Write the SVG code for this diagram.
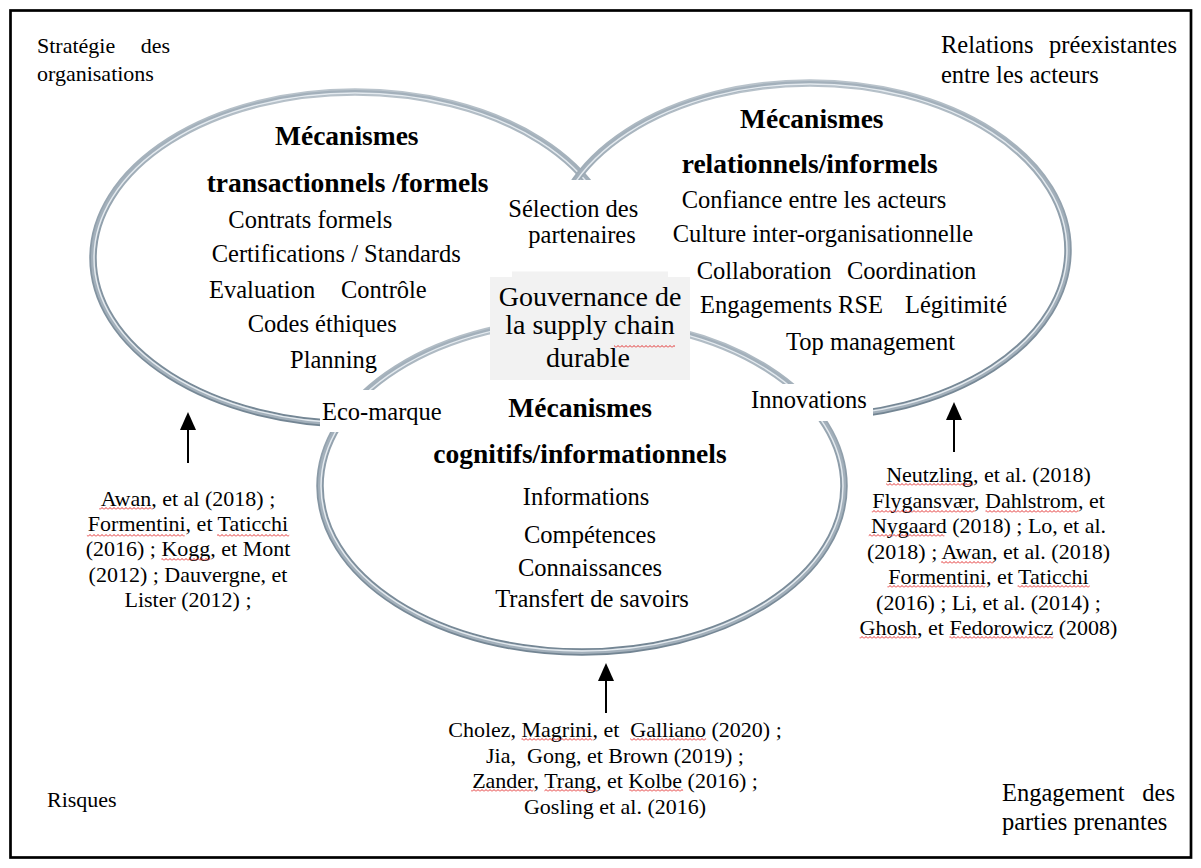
<svg xmlns="http://www.w3.org/2000/svg" width="1201" height="868" viewBox="0 0 1201 868">
<style>
.t{font-family:"Liberation Serif","Times New Roman",serif;fill:#000}
.b{font-weight:bold;font-size:27.5px}
.r{font-size:24.5px}
.c{font-size:22px}
.g{font-size:28px}
.ro{fill:none;stroke:url(#ringG);stroke-width:7.5}
.rm{fill:none;stroke:#a3b0bb;stroke-width:4}
.ri{fill:none;stroke:#e4eaef;stroke-width:1.4}
.wv{fill:url(#wave)}
.arr{stroke:#000;stroke-width:2;fill:none;marker-end:url(#ah)}
</style>
<defs>
<linearGradient id="ringG" x1="0" y1="0" x2="0" y2="1">
<stop offset="0" stop-color="#b9c3cb"/>
<stop offset="0.5" stop-color="#8797a4"/>
<stop offset="1" stop-color="#738593"/>
</linearGradient>
<pattern id="wave" width="4" height="3" patternUnits="userSpaceOnUse"><path d="M0,2.5 L2,0.5 L4,2.5" fill="none" stroke="#e01b1b" stroke-width="0.9"/></pattern>
<marker id="ah" markerUnits="userSpaceOnUse" markerWidth="18" markerHeight="16" refX="13" refY="8" orient="auto"><path d="M0,0 L18,8 L0,16 Z" fill="#000"/></marker>
</defs>
<rect x="0" y="0" width="1201" height="868" fill="#fff"/>
<rect x="10.5" y="10.5" width="1180.5" height="847" fill="none" stroke="#000" stroke-width="2.7"/>

<g id="node-transactionnels">
<ellipse class="ro" cx="355" cy="258" rx="262" ry="166"/>
<ellipse class="rm" cx="355" cy="258" rx="262" ry="166"/>
<ellipse class="ri" cx="355" cy="258" rx="261" ry="165"/>
<text class="t b" x="275" y="145">Mécanismes</text>
<text class="t b" x="206.7" y="191.7">transactionnels /formels</text>
<text class="t r" x="228.3" y="228">Contrats formels</text>
<text class="t r" x="211.7" y="262">Certifications / Standards</text>
<text class="t r" x="209" y="298">Evaluation</text>
<text class="t r" x="341" y="298">Contrôle</text>
<text class="t r" x="247.7" y="332">Codes éthiques</text>
<text class="t r" x="290" y="368">Planning</text>
</g>

<g id="node-relationnels">
<ellipse class="ro" cx="810" cy="250" rx="258" ry="167"/>
<ellipse class="rm" cx="810" cy="250" rx="258" ry="167"/>
<ellipse class="ri" cx="810" cy="250" rx="257" ry="166"/>
<text class="t b" x="740" y="128.3">Mécanismes</text>
<text class="t b" x="681.7" y="173.3">relationnels/informels</text>
<text class="t r" x="681.7" y="208.3">Confiance entre les acteurs</text>
<text class="t r" x="672.7" y="242">Culture inter-organisationnelle</text>
<text class="t r" x="696.7" y="279">Collaboration</text>
<text class="t r" x="847" y="279">Coordination</text>
<text class="t r" x="700" y="313">Engagements RSE</text>
<text class="t r" x="905" y="313">Légitimité</text>
<text class="t r" x="786" y="350">Top management</text>
</g>

<g id="node-cognitifs">
<ellipse cx="582" cy="486" rx="262" ry="166" fill="#fff" stroke="none"/>
<ellipse class="ro" cx="582" cy="486" rx="262" ry="166"/>
<ellipse class="rm" cx="582" cy="486" rx="262" ry="166"/>
<ellipse class="ri" cx="582" cy="486" rx="261" ry="165"/>
<text class="t b" x="508.3" y="416.7">Mécanismes</text>
<text class="t b" x="433.3" y="463.3">cognitifs/informationnels</text>
<text class="t r" x="586" y="505" text-anchor="middle">Informations</text>
<text class="t r" x="590" y="543" text-anchor="middle">Compétences</text>
<text class="t r" x="590" y="576" text-anchor="middle">Connaissances</text>
<text class="t r" x="592" y="607" text-anchor="middle">Transfert de savoirs</text>
</g>

<g id="node-selection">
<rect x="500" y="180" width="165" height="93" fill="#fff"/>
<text class="t r" x="508.3" y="216.7">Sélection des</text>
<text class="t r" x="528.3" y="243.3">partenaires</text>
</g>

<g id="node-gouvernance">
<rect x="490" y="277" width="200" height="103" fill="#f2f2f2"/>
<rect x="512" y="271.5" width="156" height="6" fill="#f2f2f2"/>
<text class="t g" x="590" y="306" text-anchor="middle">Gouvernance de</text>
<text class="t g" x="590" y="334.3" text-anchor="middle">la supply chain</text>
<text class="t g" x="588" y="366.7" text-anchor="middle">durable</text>
<rect class="wv" x="614" y="345" width="61" height="3"/>
</g>

<g id="label-ecomarque">
<rect x="320" y="390" width="126" height="42" fill="#fff"/>
<text class="t r" x="322" y="420">Eco-marque</text>
</g>

<g id="label-innovations">
<rect x="747" y="384" width="126" height="37" fill="#fff"/>
<text class="t r" x="751" y="408">Innovations</text>
</g>

<g id="ctx-strategie">
<text class="t c" x="37" y="53.3">Stratégie</text>
<text class="t c" x="170" y="53.3" text-anchor="end">des</text>
<text class="t c" x="37" y="81">organisations</text>
</g>
<g id="ctx-relations">
<text class="t r" x="941" y="53">Relations</text>
<text class="t r" x="1177" y="53" text-anchor="end">préexistantes</text>
<text class="t r" x="941" y="83">entre les acteurs</text>
</g>
<g id="ctx-risques">
<text class="t c" x="47" y="807">Risques</text>
</g>
<g id="ctx-engagement">
<text class="t r" x="1002" y="801">Engagement</text>
<text class="t r" x="1175" y="801" text-anchor="end">des</text>
<text class="t r" x="1002" y="830">parties prenantes</text>
</g>

<g id="refs-left">
<text class="t c" x="188" y="506" text-anchor="middle">Awan, et al (2018) ;</text>
<text class="t c" x="188" y="531" text-anchor="middle">Formentini, et Taticchi</text>
<text class="t c" x="188" y="556" text-anchor="middle">(2016) ; Kogg, et Mont</text>
<text class="t c" x="188" y="581.5" text-anchor="middle">(2012) ; Dauvergne, et</text>
<text class="t c" x="188" y="606.5" text-anchor="middle">Lister (2012) ;</text>
<rect class="wv" x="99.2" y="507" width="52.5" height="3"/>
<rect class="wv" x="86.9" y="534" width="97.8" height="3"/>
<rect class="wv" x="217.1" y="534" width="72.1" height="3"/>
<rect class="wv" x="161.4" y="558" width="48.9" height="3"/>
</g>

<g id="refs-right">
<text class="t c" x="988.5" y="482" text-anchor="middle">Neutzling, et al. (2018)</text>
<text class="t c" x="988.5" y="507.5" text-anchor="middle">Flygansvær, Dahlstrom, et</text>
<text class="t c" x="988.5" y="533" text-anchor="middle">Nygaard (2018) ; Lo, et al.</text>
<text class="t c" x="988.5" y="558.5" text-anchor="middle">(2018) ; Awan, et al. (2018)</text>
<text class="t c" x="988.5" y="584" text-anchor="middle">Formentini, et Taticchi</text>
<text class="t c" x="988.5" y="609.5" text-anchor="middle">(2016) ; Li, et al. (2014) ;</text>
<text class="t c" x="988.5" y="635" text-anchor="middle">Ghosh, et Fedorowicz (2008)</text>
<rect class="wv" x="886.2" y="483" width="86.8" height="3"/>
<rect class="wv" x="871.8" y="510" width="102.7" height="3"/>
<rect class="wv" x="985.5" y="510" width="92.9" height="3"/>
<rect class="wv" x="868.7" y="534" width="75.7" height="3"/>
<rect class="wv" x="941.2" y="561" width="52.5" height="3"/>
<rect class="wv" x="887.4" y="585" width="97.8" height="3"/>
<rect class="wv" x="1017.6" y="585" width="72.1" height="3"/>
<rect class="wv" x="859.6" y="636" width="57.4" height="3"/>
<rect class="wv" x="949.4" y="636" width="103.9" height="3"/>
</g>

<g id="refs-bottom">
<text class="t c" x="615" y="737" text-anchor="middle" xml:space="preserve">Cholez, Magrini, et  Galliano (2020) ;</text>
<text class="t c" x="615" y="762.5" text-anchor="middle" xml:space="preserve">Jia,  Gong, et Brown (2019) ;</text>
<text class="t c" x="615" y="788" text-anchor="middle">Zander, Trang, et Kolbe (2016) ;</text>
<text class="t c" x="615" y="813.5" text-anchor="middle">Gosling et al. (2016)</text>
<rect class="wv" x="521.5" y="738" width="70.9" height="3"/>
<rect class="wv" x="630.3" y="738" width="75.8" height="3"/>
<rect class="wv" x="471.1" y="789" width="62.3" height="3"/>
<rect class="wv" x="544.4" y="789" width="52.5" height="3"/>
<rect class="wv" x="629.3" y="789" width="53.8" height="3"/>
</g>

<g id="connectors">
<line class="arr" x1="188" y1="463" x2="188" y2="417"/>
<line class="arr" x1="954" y1="452" x2="954" y2="407"/>
<line class="arr" x1="606" y1="713" x2="606" y2="668"/>
</g>
</svg>
